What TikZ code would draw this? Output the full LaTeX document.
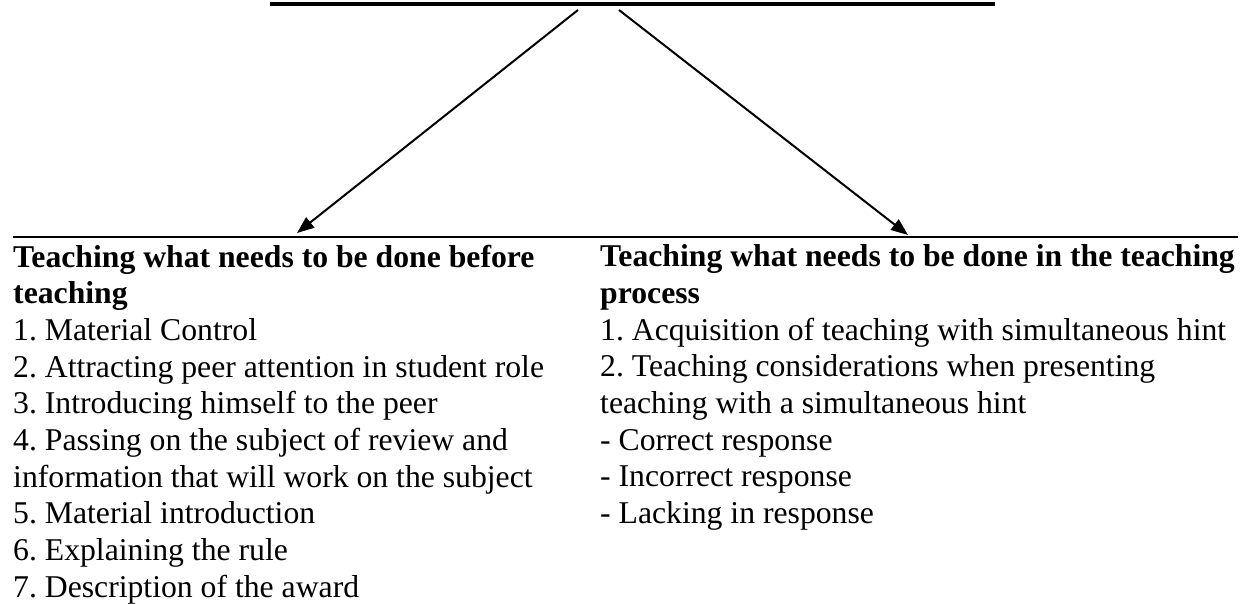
\documentclass[tikz,border=0pt]{standalone}
\usepackage{fontspec}
\setmainfont{Liberation Serif}
\usetikzlibrary{arrows.meta}
\frenchspacing
\begin{document}
\begin{tikzpicture}[x=1pt,y=-1pt,
  topbar/.style={line width=4.5pt},
  rule/.style={line width=2.5pt},
  link/.style={line width=2pt,-{Triangle[length=17pt,width=13pt]}},
  column/.style={anchor=north west,inner sep=0pt,align=left,
    font=\fontsize{31.7}{36.7}\selectfont}]
\useasboundingbox (0,0) rectangle (1245,604);

% heading bar at the top
\coordinate (barL) at (270,4);
\coordinate (barR) at (995,4);
\draw[topbar] (barL) -- (barR);

% the two branches
\coordinate (srcL) at (578,10);
\coordinate (srcR) at (619,10);
\coordinate (tipL) at (297,233);
\coordinate (tipR) at (908,235);
\draw[link] (srcL) -- (tipL);
\draw[link] (srcR) -- (tipR);

% separator above the two columns
\coordinate (ruleL) at (13,237);
\coordinate (ruleR) at (1238,237);
\draw[rule] (ruleL) -- (ruleR);

\node[column] (before) at (13,244.5) {%
\textbf{Teaching what needs to be done before}\\
\textbf{teaching}\\
1. Material Control\\
2. Attracting peer attention in student role\\
3. Introducing himself to the peer\\
4. Passing on the subject of review and\\
information that will work on the subject\\
5. Material introduction\\
6. Explaining the rule\\
7. Description of the award};

\node[column] (during) at (600,244.5) {%
\textbf{Teaching what needs to be done in the teaching}\\
\textbf{process}\\
1. Acquisition of teaching with simultaneous hint\\
2. Teaching considerations when presenting\\
teaching with a simultaneous hint\\
- Correct response\\
- Incorrect response\\
- Lacking in response};
\end{tikzpicture}
\end{document}
